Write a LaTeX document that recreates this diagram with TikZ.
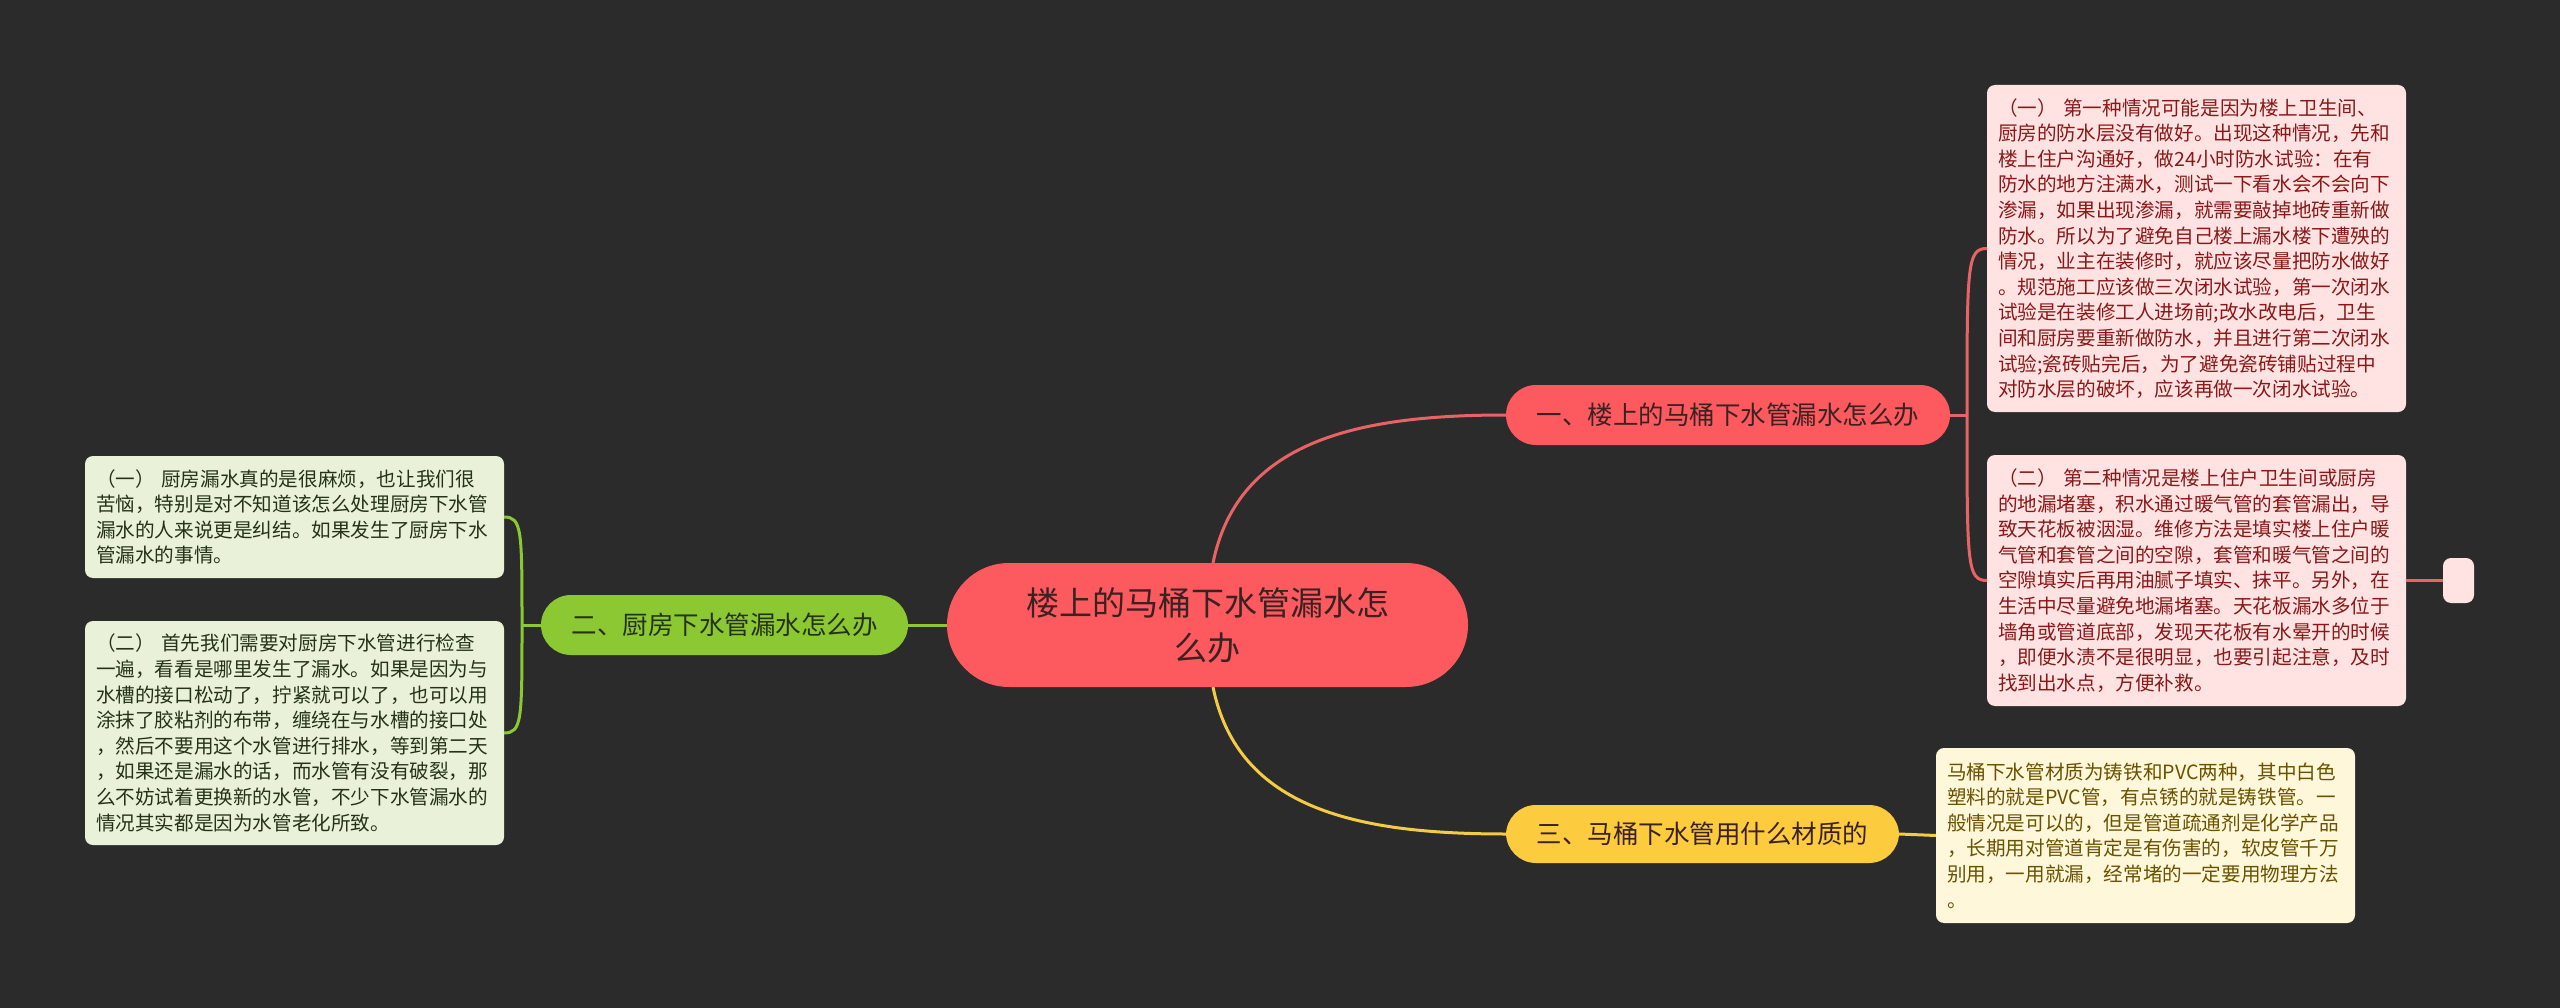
\documentclass[tikz,border=0pt]{standalone}
\usepackage{fontspec}
\setmainfont{Noto Sans CJK SC}
\definecolor{bg}{HTML}{2B2B2B}
\definecolor{cred}{HTML}{FC5A5E}
\definecolor{credline}{HTML}{E86366}
\definecolor{cgreen}{HTML}{8CC832}
\definecolor{cyellow}{HTML}{FDCB3E}
\definecolor{cyellowline}{HTML}{F4CB45}
\definecolor{lred}{HTML}{FFE3E3}
\definecolor{lredtxt}{HTML}{8A1818}
\definecolor{lgreen}{HTML}{E9F2D9}
\definecolor{lgreentxt}{HTML}{253218}
\definecolor{lyellow}{HTML}{FFF7DA}
\definecolor{lyellowtxt}{HTML}{6A5200}
\definecolor{ctxt}{HTML}{3A2222}
\begin{document}
\begin{tikzpicture}[x=1pt,y=-1pt,
  every node/.style={inner sep=0pt, outer sep=0pt},
  centralbox/.style={fill=cred, text=ctxt, align=center, rounded corners=62pt,
    font=\fontsize{33}{45}\selectfont},
  branchbox/.style={rounded corners=30pt, align=center, minimum height=60pt,
    font=\fontsize{25.5}{30}\selectfont},
  leafbox/.style={rounded corners=8pt, align=left, text width=397pt, minimum width=419pt,
    font=\fontsize{19.6}{25.6}\selectfont},
  conn/.style={line width=3pt}]
\useasboundingbox (0,0) rectangle (2560,1008);
\fill[bg] (0,0) rectangle (2560,1008);

% nodes
\node[centralbox, minimum width=521pt, minimum height=124pt] (c) at (1207.5,625)
  {楼上的马桶下水管漏水怎\\么办};
\node[branchbox, fill=cred, text=ctxt, minimum width=444pt] (b1) at (1728,415)
  {一、楼上的马桶下水管漏水怎么办};
\node[branchbox, fill=cgreen, text=lgreentxt, minimum width=367pt] (b2) at (724.5,625)
  {二、厨房下水管漏水怎么办};
\node[branchbox, fill=cyellow, text=ctxt, minimum width=393pt, minimum height=58pt] (b3) at (1702.5,834)
  {三、马桶下水管用什么材质的};

\node[leafbox, fill=lred, text=lredtxt, minimum height=327pt] (l1) at (2196.5,248.5)
  {（一） 第一种情况可能是因为楼上卫生间、\\
   厨房的防水层没有做好。出现这种情况，先和\\
   楼上住户沟通好，做24小时防水试验：在有\\
   防水的地方注满水，测试一下看水会不会向下\\
   渗漏，如果出现渗漏，就需要敲掉地砖重新做\\
   防水。所以为了避免自己楼上漏水楼下遭殃的\\
   情况，业主在装修时，就应该尽量把防水做好\\
   。规范施工应该做三次闭水试验，第一次闭水\\
   试验是在装修工人进场前;改水改电后，卫生\\
   间和厨房要重新做防水，并且进行第二次闭水\\
   试验;瓷砖贴完后，为了避免瓷砖铺贴过程中\\
   对防水层的破坏，应该再做一次闭水试验。};
\node[leafbox, fill=lred, text=lredtxt, minimum height=251pt] (l2) at (2196.5,580.5)
  {（二） 第二种情况是楼上住户卫生间或厨房\\
   的地漏堵塞，积水通过暖气管的套管漏出，导\\
   致天花板被洇湿。维修方法是填实楼上住户暖\\
   气管和套管之间的空隙，套管和暖气管之间的\\
   空隙填实后再用油腻子填实、抹平。另外，在\\
   生活中尽量避免地漏堵塞。天花板漏水多位于\\
   墙角或管道底部，发现天花板有水晕开的时候\\
   ，即便水渍不是很明显，也要引起注意，及时\\
   找到出水点，方便补救。};
\node[fill=lred, rounded corners=8pt, minimum width=31pt, minimum height=45pt] (sm) at (2458.5,580.5) {};
\node[leafbox, fill=lyellow, text=lyellowtxt, minimum height=175pt] (l3) at (2145.5,835.5)
  {马桶下水管材质为铸铁和PVC两种，其中白色\\
   塑料的就是PVC管，有点锈的就是铸铁管。一\\
   般情况是可以的，但是管道疏通剂是化学产品\\
   ，长期用对管道肯定是有伤害的，软皮管千万\\
   别用，一用就漏，经常堵的一定要用物理方法\\
   。};
\node[leafbox, fill=lgreen, text=lgreentxt, minimum height=122pt] (l4) at (294.5,517)
  {（一） 厨房漏水真的是很麻烦，也让我们很\\
   苦恼，特别是对不知道该怎么处理厨房下水管\\
   漏水的人来说更是纠结。如果发生了厨房下水\\
   管漏水的事情。};
\node[leafbox, fill=lgreen, text=lgreentxt, minimum height=224pt] (l5) at (294.5,733)
  {（二） 首先我们需要对厨房下水管进行检查\\
   一遍，看看是哪里发生了漏水。如果是因为与\\
   水槽的接口松动了，拧紧就可以了，也可以用\\
   涂抹了胶粘剂的布带，缠绕在与水槽的接口处\\
   ，然后不要用这个水管进行排水，等到第二天\\
   ，如果还是漏水的话，而水管有没有破裂，那\\
   么不妨试着更换新的水管，不少下水管漏水的\\
   情况其实都是因为水管老化所致。};

\coordinate (j1) at (1967,415);
\coordinate (j2) at (522,625);

% connectors
\draw[conn, credline] ([xshift=5.5pt]c.north) .. controls +(25,-123) and +(-147,0) .. (b1.west);
\draw[conn, cyellowline] ([xshift=5.5pt]c.south) .. controls +(25,123) and +(-147,0) .. (b3.west);
\draw[conn, cgreen] (c.west) -- (b2.east);

\draw[conn, credline] (b1.east) -- (j1);
\draw[conn, credline] (j1) .. controls +(0,-150) and +(-20,0) .. (l1.west);
\draw[conn, credline] (j1) .. controls +(0,150) and +(-20,0) .. (l2.west);
\draw[conn, credline] (l2.east) -- (sm.west);

\draw[conn, cgreen] (b2.west) -- (j2);
\draw[conn, cgreen] (j2) .. controls +(0,-95) and +(18,0) .. (l4.east);
\draw[conn, cgreen] (j2) .. controls +(0,95) and +(18,0) .. (l5.east);

\draw[conn, cyellowline] (b3.east) -- (l3.west);
\end{tikzpicture}
\end{document}
